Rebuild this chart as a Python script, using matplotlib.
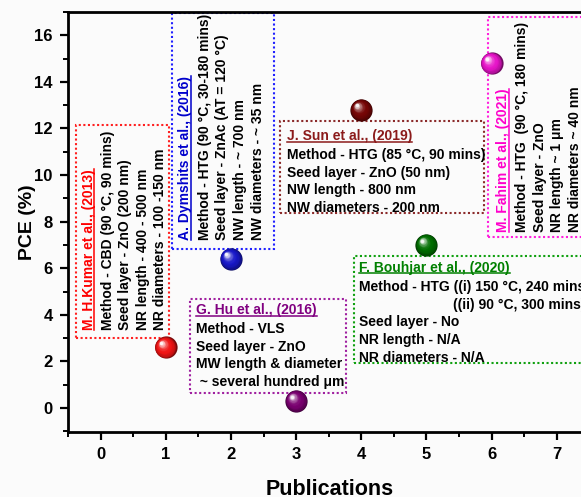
import matplotlib.pyplot as plt
import numpy as np
from matplotlib.colors import to_rgb
from matplotlib.lines import Line2D
from matplotlib.patches import Rectangle
from matplotlib.transforms import offset_copy

plt.rcParams['font.family'] = ['Liberation Sans', 'DejaVu Sans']
plt.rcParams['font.weight'] = 'bold'

# datos
publications = [1, 2, 3, 4, 5, 6]
pce = [2.6, 6.4, 0.3, 12.8, 7.0, 14.8]
sphere_colors = ['#f01414', '#1818c8', '#7a0070', '#750505', '#006e00', '#e614c8']
title_colors = ['#ff0000', '#0000cc', '#800080', '#8b1a1a', '#008000', '#ff00cc']
box_colors = ['#ff2020', '#2020ff', '#a020a0', '#8b2a2a', '#10a010', '#ff20dd']
authors = ['M. H.Kumar et al., (2013)', 'A. Dymshits et al., (2016)', 'G. Hu et al., (2016)',
           'J. Sun et al., (2019)', 'F. Bouhjar et al., (2020)', 'M. Fahim et al., (2021)']
details = [
    ['Method - CBD (90 °C, 90 mins)', 'Seed layer - ZnO (200 nm)', 'NR length - 400 - 500 nm',
     'NR diameters - 100 -150 nm'],
    ['Method - HTG (90 °C, 30-180 mins)', 'Seed layer - ZnAc (AT = 120 °C)', 'NW length - ~ 700 nm',
     'NW diameters - ~ 35 nm'],
    ['Method - VLS', 'Seed layer - ZnO', 'MW length & diameter', ' ~ several hundred μm'],
    ['Method - HTG (85 °C, 90 mins)', 'Seed layer - ZnO (50 nm)', 'NW length - 800 nm',
     'NW diameters - 200 nm'],
    ['Method - HTG ((i) 150 °C, 240 mins)', '', 'Seed layer - No', 'NR length - N/A',
     'NR diameters - N/A'],
    ['Method - HTG  (90 °C, 180 mins)', 'Seed layer - ZnO', 'NR length ~ 1 μm', 'NR diameters ~ 40 nm'],
]
bouhjar_extra = '((ii) 90 °C, 300 mins)'
x_ticks = [0, 1, 2, 3, 4, 5, 6, 7]
y_ticks = [0, 2, 4, 6, 8, 10, 12, 14, 16]

# cajas: (rotada, x0, y0, x1, y1, a, b, c)
# rotada: a = x titulo, b = x cuerpo, c = y inicio
# horizontal: a = x texto, b = y base titulo, c = y arriba cuerpo
layout = [
    (True, -0.37, 3.0, 1.05, 12.15, -0.29, 0.0, 3.35),
    (True, 1.10, 6.82, 2.66, 16.95, 1.19, 1.49, 7.21),
    (False, 1.37, 0.64, 3.76, 4.68, 1.466, 4.03, 3.69),
    (False, 2.75, 8.37, 5.88, 12.3, 2.855, 11.50, 11.16),
    (False, 3.89, 1.93, 8.0, 6.52, 3.97, 5.84, 5.49),
    (True, 5.94, 7.34, 8.0, 16.8, 6.07, 6.36, 7.55),
]

FS = 10
LS = 1.33

fig = plt.figure(figsize=(5.81, 4.97), dpi=100, facecolor='#fbfbfb')
ax = fig.add_axes([68 / 581, 65 / 497, 524 / 581, 420 / 497])
ax.set_facecolor('#fbfbfb')
ax.set_xlim(-0.458, 7.54)
ax.set_ylim(-1.03, 17.0)


def draw_sphere(ax, x, y, color, d_pt=16):
    base = np.array(to_rgb(color))
    dark = base * 0.5
    n = 16
    for k in range(n):
        t = k / (n - 1)
        d = d_pt * (1 - 0.85 * t)
        off = d_pt * 0.2 * t
        if t < 0.4:
            c = dark + (base - dark) * (t / 0.4) ** 0.5
        else:
            w = ((t - 0.4) / 0.6) ** 2
            c = base + (1 - base) * w * 0.95
        tr = offset_copy(ax.transData, fig=ax.figure, x=-off, y=off, units='points')
        ax.scatter([x], [y], s=d ** 2, color=c, transform=tr, zorder=5 + k * 0.01,
                   linewidths=0, clip_on=False)


titles = []
for i in range(len(publications)):
    rot, bx0, by0, bx1, by1, a, b, c = layout[i]
    ax.add_patch(Rectangle((bx0, by0), bx1 - bx0, by1 - by0, fill=False, ec=box_colors[i],
                           ls=(0, (1, 1.2)), lw=1.5, zorder=2))
    if rot:
        t = ax.text(a, c, authors[i], rotation=90, ha='left', va='bottom', fontsize=FS,
                    color=title_colors[i], zorder=3)
        ax.text(b, c, '\n'.join(details[i]), rotation=90, ha='left', va='bottom', fontsize=FS,
                linespacing=LS, multialignment='left', zorder=3)
    else:
        t = ax.text(a, b, authors[i], ha='left', va='baseline', fontsize=FS,
                    color=title_colors[i], zorder=3)
        ax.text(a, c, '\n'.join(details[i]), ha='left', va='top', fontsize=FS,
                linespacing=LS, zorder=3)
    titles.append((t, rot, title_colors[i]))

ax.text(5.40, 4.25, bouhjar_extra, ha='left', va='baseline', fontsize=FS, zorder=3)

for i in range(len(publications)):
    draw_sphere(ax, publications[i], pce[i], sphere_colors[i])

ax.set_xticks(x_ticks)
ax.set_yticks(y_ticks)
ax.set_xticks(np.arange(-0.5, 7.6, 0.5), minor=True)
ax.set_yticks(np.arange(-1, 17.1, 1), minor=True)
ax.tick_params(which='major', direction='out', length=6, width=1.6, labelsize=12, pad=5)
ax.tick_params(which='minor', direction='out', length=3.5, width=1.4)
for s in ax.spines.values():
    s.set_linewidth(2)

ax.set_xlabel('Publications', fontsize=15.5, fontweight='bold', labelpad=12)
ax.set_ylabel('PCE (%)', fontsize=14, fontweight='bold', labelpad=-1)

# subrayado de los titulos
fig.canvas.draw()
renderer = fig.canvas.get_renderer()
inv = fig.transFigure.inverted()
for t, rot, col in titles:
    bb = t.get_window_extent(renderer)
    if rot:
        x = bb.x1 - 1.5
        (x0, y0), (x1, y1) = inv.transform([(x, bb.y0), (x, bb.y1)])
        fig.add_artist(Line2D([x0, x0], [y0, y1], color=col, lw=1.1))
    else:
        y = bb.y0 + 1.5
        (x0, y0), (x1, y1) = inv.transform([(bb.x0, y), (bb.x1, y)])
        fig.add_artist(Line2D([x0, x1], [y0, y0], color=col, lw=1.1))

fig.savefig('out.png', dpi=100, facecolor=fig.get_facecolor())
